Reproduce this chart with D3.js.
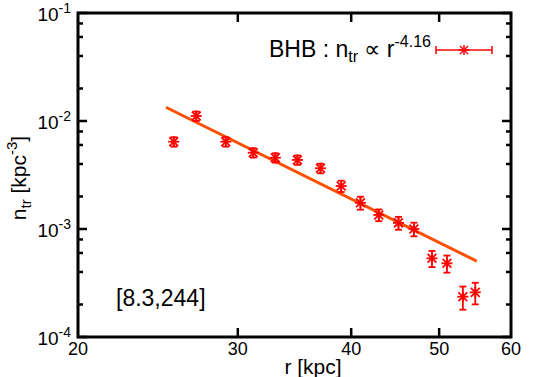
<!DOCTYPE html>
<html><head><meta charset="utf-8">
<script src="https://cdn.jsdelivr.net/npm/d3@7/dist/d3.min.js"></script>
<style>
body{margin:0;background:#fff;}
text{font-family:"Liberation Sans",Arial,Helvetica,sans-serif;fill:#000;}
</style></head>
<body><svg id="c" width="538" height="377"></svg>
<script>
// Data
const radius = [25.5, 27.0, 29.1, 31.2, 33.0, 34.9, 37.0, 39.0, 40.95, 42.9, 45.1, 46.9, 49.1, 51.0, 53.1, 54.8];
const density = [0.00643, 0.01112, 0.00643, 0.00509, 0.00457, 0.00436, 0.00365, 0.00250, 0.00175, 0.00135, 0.00114, 0.00100, 0.000535, 0.000481, 0.000236, 0.000259];
const densityErr = [0.00064, 0.0011, 0.00064, 0.0005, 0.00045, 0.00043, 0.00037, 0.0003, 0.00024, 0.000168, 0.000156, 0.000144, 0.000091, 0.000087, 0.000057, 0.0000586];
const fitR = [25, 55];
const fitN = [0.0134, 0.000504];
const xTicks = [20, 30, 40, 50, 60];
const yMajor = [1e-4, 1e-3, 1e-2, 1e-1];
const yExp = ["-4", "-3", "-2", "-1"];
const yMinorMult = [2, 4, 6, 8];
const legendLabel = {main: "BHB : n", sub: "tr", mid: " \u221D r", sup: "-4.16"};
const annotation = "[8.3,244]";

const svg = d3.select("#c");
const L = 78, R = 511, T = 13, B = 337;
const x = d3.scaleLog().domain([20, 60]).range([L, R]);
const y = d3.scaleLog().domain([1e-4, 1e-1]).range([B, T]);
const red = "#ff0000", orange = "#ff5000";

// ticks
const tg = svg.append("g").attr("stroke", "#000").attr("stroke-width", 2.5);
xTicks.slice(1, -1).forEach(v => {
  tg.append("line").attr("x1", x(v)).attr("x2", x(v)).attr("y1", B).attr("y2", B - 9);
  tg.append("line").attr("x1", x(v)).attr("x2", x(v)).attr("y1", T).attr("y2", T + 9);
});
yMajor.forEach((v, i) => {
  tg.append("line").attr("x1", L).attr("x2", L + 9).attr("y1", y(v)).attr("y2", y(v));
  tg.append("line").attr("x1", R).attr("x2", R - 9).attr("y1", y(v)).attr("y2", y(v));
  if (i < yMajor.length - 1) {
    yMinorMult.forEach(m => {
      tg.append("line").attr("x1", L).attr("x2", L + 5).attr("y1", y(v * m)).attr("y2", y(v * m));
      tg.append("line").attr("x1", R).attr("x2", R - 5).attr("y1", y(v * m)).attr("y2", y(v * m));
    });
  }
});
// frame
svg.append("rect").attr("x", L).attr("y", T).attr("width", R - L).attr("height", B - T)
  .attr("fill", "none").attr("stroke", "#000").attr("stroke-width", 3);

// tick labels
xTicks.forEach(v => {
  svg.append("text").attr("x", x(v)).attr("y", 355).attr("text-anchor", "middle")
    .attr("font-size", 18).text(v);
});
yMajor.forEach((v, i) => {
  const t = svg.append("text").attr("x", 71).attr("y", y(v) + 8).attr("text-anchor", "end").attr("font-size", 19);
  t.append("tspan").text("10");
  t.append("tspan").attr("font-size", 14).attr("dy", -8).text(yExp[i]);
});

// axis labels
const yl = svg.append("text").attr("transform", "translate(26,178) rotate(-90)")
  .attr("text-anchor", "middle").attr("font-size", 21);
yl.append("tspan").text("n");
yl.append("tspan").attr("font-size", 15).attr("dy", 5).text("tr");
yl.append("tspan").attr("dy", -5).text(" [kpc");
yl.append("tspan").attr("font-size", 15).attr("dy", -9).text("-3");
yl.append("tspan").attr("dy", 9).text("]");

svg.append("text").attr("x", 313).attr("y", 374).attr("text-anchor", "middle")
  .attr("font-size", 21).text("r [kpc]");

// annotation
svg.append("text").attr("x", 116).attr("y", 306).attr("font-size", 23).text(annotation);

// fit line
svg.append("line").attr("x1", x(fitR[0])).attr("y1", y(fitN[0]))
  .attr("x2", x(fitR[1])).attr("y2", y(fitN[1]))
  .attr("stroke", orange).attr("stroke-width", 3);

// points
function star(g, cx, cy, s) {
  g.append("line").attr("x1", cx - s).attr("x2", cx + s).attr("y1", cy).attr("y2", cy);
  g.append("line").attr("x1", cx).attr("x2", cx).attr("y1", cy - s).attr("y2", cy + s);
  g.append("line").attr("x1", cx - s * 0.8).attr("x2", cx + s * 0.8).attr("y1", cy - s * 0.8).attr("y2", cy + s * 0.8);
  g.append("line").attr("x1", cx - s * 0.8).attr("x2", cx + s * 0.8).attr("y1", cy + s * 0.8).attr("y2", cy - s * 0.8);
}
const pg = svg.append("g").attr("stroke", red).attr("stroke-width", 1.8);
radius.forEach((r, i) => {
  const cx = x(r), cy = y(density[i]);
  const y1 = y(density[i] + densityErr[i]), y2 = y(density[i] - densityErr[i]);
  pg.append("line").attr("x1", cx).attr("x2", cx).attr("y1", y1).attr("y2", y2);
  pg.append("line").attr("x1", cx - 3.5).attr("x2", cx + 3.5).attr("y1", y1).attr("y2", y1);
  pg.append("line").attr("x1", cx - 3.5).attr("x2", cx + 3.5).attr("y1", y2).attr("y2", y2);
  star(pg, cx, cy, 5.5);
});

// legend
const lt = svg.append("text").attr("x", 431).attr("y", 57).attr("text-anchor", "end").attr("font-size", 23);
lt.append("tspan").text(legendLabel.main);
lt.append("tspan").attr("font-size", 16).attr("dy", 5).text(legendLabel.sub);
lt.append("tspan").attr("dy", -5).text(legendLabel.mid);
lt.append("tspan").attr("font-size", 16).attr("dy", -10).text(legendLabel.sup);
const lg = svg.append("g").attr("stroke", red).attr("stroke-width", 1.5);
lg.append("line").attr("x1", 436).attr("x2", 492).attr("y1", 50).attr("y2", 50);
lg.append("line").attr("x1", 436).attr("x2", 436).attr("y1", 46).attr("y2", 54);
lg.append("line").attr("x1", 492).attr("x2", 492).attr("y1", 46).attr("y2", 54);
star(lg, 464, 50, 5);
</script></body></html>
